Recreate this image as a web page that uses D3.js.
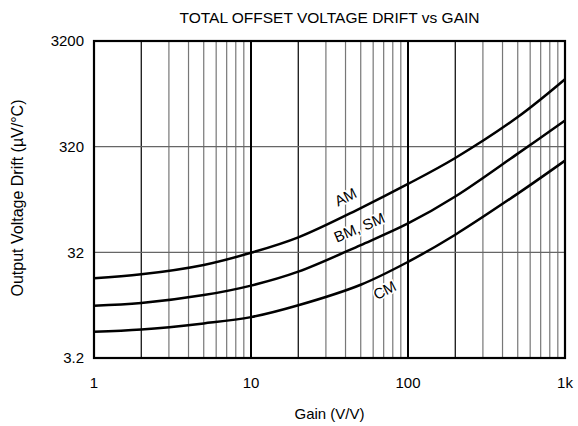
<!DOCTYPE html>
<html>
<head>
<meta charset="utf-8">
<script src="https://cdn.jsdelivr.net/npm/d3@7"></script>
<style>
  body { margin: 0; background: #fff; }
  text { font-family: "Liberation Sans", Arial, sans-serif; fill: #000; }
</style>
</head>
<body>
<div id="chart"></div>
<script>
// Values
var gains = [1, 2, 5, 10, 20, 50, 100, 200, 500, 1000];
var amDrift = [18.2, 19.8, 24.3, 31.7, 44.4, 84, 142, 250, 610, 1390];
var bmDrift = [10.0, 10.6, 12.6, 15.5, 21, 37.5, 60, 108, 275, 565];
var cmDrift = [5.68, 5.95, 6.8, 7.8, 10.1, 15.8, 26, 47, 115, 236];

var seriesNames = ["AM", "BM, SM", "CM"];
var xTicks = [1, 10, 100, 1000];
var xTickLabels = ["1", "10", "100", "1k"];
var yTicks = [3.2, 32, 320, 3200];
var yTickLabels = ["3.2", "32", "320", "3200"];

var svgWidth = 578;
var svgHeight = 426;

var margin = { top: 41, right: 13, bottom: 68, left: 94 };
var width = svgWidth - margin.left - margin.right;
var height = svgHeight - margin.top - margin.bottom;

var svg = d3.select("#chart")
    .append("svg")
    .attr("width", svgWidth)
    .attr("height", svgHeight);

var chartGroup = svg.append("g")
    .attr("transform", `translate(${margin.left}, ${margin.top})`);

var xScale = d3.scaleLog().domain([1, 1000]).range([0, width]);
var yScale = d3.scaleLog().domain([3.2, 3200]).range([height, 0]);

// minor vertical grid
var minor = [];
[1, 10, 100].forEach(function(dec) {
    for (var k = 2; k <= 9; k++) minor.push(dec * k);
});

chartGroup.append("g").selectAll("line")
    .data(minor)
    .enter()
    .append("line")
    .attr("x1", d => xScale(d))
    .attr("x2", d => xScale(d))
    .attr("y1", 0)
    .attr("y2", height)
    .attr("stroke", d => (d == 2 || d == 20 || d == 200) ? "#000" : "#777")
    .attr("stroke-width", 1.2);

// horizontal grid
chartGroup.append("g").selectAll("line")
    .data([32, 320])
    .enter()
    .append("line")
    .attr("x1", 0)
    .attr("x2", width)
    .attr("y1", d => yScale(d))
    .attr("y2", d => yScale(d))
    .attr("stroke", "#666")
    .attr("stroke-width", 1.3);

// major verticals
chartGroup.append("g").selectAll("line")
    .data([10, 100])
    .enter()
    .append("line")
    .attr("x1", d => xScale(d))
    .attr("x2", d => xScale(d))
    .attr("y1", 0)
    .attr("y2", height)
    .attr("stroke", "#000")
    .attr("stroke-width", 2);

// curves
var line = d3.line()
    .x(d => xScale(d[0]))
    .y(d => yScale(d[1]))
    .curve(d3.curveCatmullRom.alpha(0.5));

[amDrift, bmDrift, cmDrift].forEach(function(vals) {
    chartGroup.append("path")
        .datum(gains.map((g, i) => [g, vals[i]]))
        .attr("fill", "none")
        .attr("stroke", "#000")
        .attr("stroke-width", 2.5)
        .attr("d", line);
});

// frame
chartGroup.append("rect")
    .attr("width", width)
    .attr("height", height)
    .attr("fill", "none")
    .attr("stroke", "#000")
    .attr("stroke-width", 2.2);

// curve labels
var labelPos = [
    { g: 40, v: 107, rot: -27 },
    { g: 49, v: 55, rot: -23 },
    { g: 71, v: 14, rot: -27 }
];
chartGroup.append("g").selectAll("text")
    .data(seriesNames)
    .enter()
    .append("text")
    .attr("transform", (d, i) => `translate(${xScale(labelPos[i].g)}, ${yScale(labelPos[i].v)}) rotate(${labelPos[i].rot})`)
    .attr("text-anchor", "middle")
    .attr("dy", "0.35em")
    .attr("font-size", "15px")
    .attr("stroke", "#fff")
    .attr("stroke-width", 3)
    .attr("paint-order", "stroke")
    .text(d => d);

// tick labels
chartGroup.append("g").selectAll("text")
    .data(xTicks)
    .enter()
    .append("text")
    .attr("x", d => xScale(d))
    .attr("y", height + 30)
    .attr("text-anchor", "middle")
    .attr("font-size", "15px")
    .text((d, i) => xTickLabels[i]);

chartGroup.append("g").selectAll("text")
    .data(yTicks)
    .enter()
    .append("text")
    .attr("x", -10)
    .attr("y", d => yScale(d))
    .attr("dy", "0.35em")
    .attr("text-anchor", "end")
    .attr("font-size", "15px")
    .text((d, i) => yTickLabels[i]);

// titles
svg.append("text")
    .attr("x", margin.left + width / 2)
    .attr("y", 23)
    .attr("text-anchor", "middle")
    .attr("font-size", "15.5px")
    .text("TOTAL OFFSET VOLTAGE DRIFT vs GAIN");

svg.append("text")
    .attr("x", margin.left + width / 2)
    .attr("y", 419)
    .attr("text-anchor", "middle")
    .attr("font-size", "15px")
    .text("Gain (V/V)");

svg.append("text")
    .attr("transform", `translate(23, 198) rotate(-90)`)
    .attr("text-anchor", "middle")
    .attr("font-size", "16px")
    .text("Output Voltage Drift (µV/°C)");
</script>
</body>
</html>
